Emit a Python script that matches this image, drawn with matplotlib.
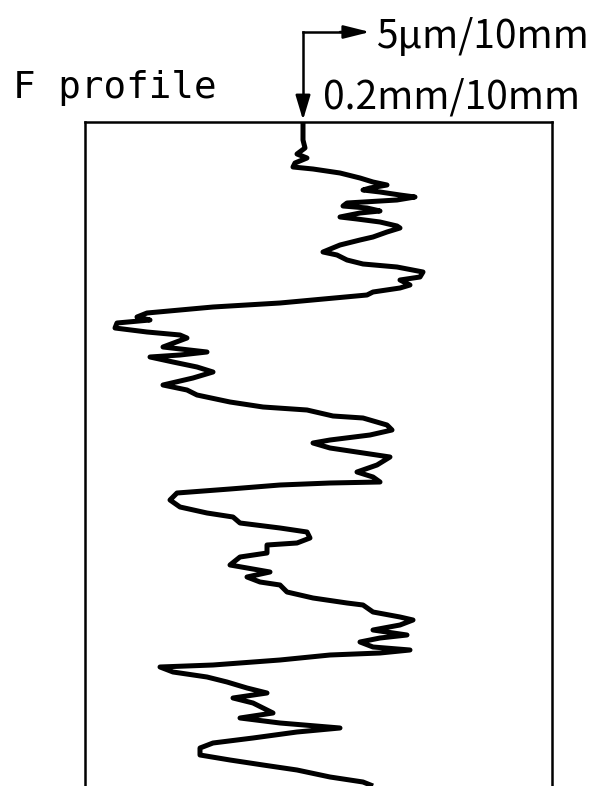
import matplotlib
matplotlib.use("Agg")
import matplotlib.pyplot as plt

# profile trace (deviation across, position down)
deviation = [303, 303, 305, 297, 307, 295, 293, 313, 340, 360, 373, 387, 370, 363, 380, 400,
             415, 397, 347, 343, 367, 380, 360, 340, 357, 380, 397, 400, 387, 373, 360, 340,
             323, 337, 347, 363, 397, 423, 420, 400, 410, 400, 373, 367, 313, 280, 213, 180,
             147, 137, 150, 117, 115, 147, 180, 187, 163, 207, 180, 150, 173, 197, 213, 193,
             163, 187, 197, 230, 263, 307, 333, 363, 387, 392, 370, 330, 313, 330, 363, 390,
             377, 357, 373, 380, 330, 280, 230, 177, 170, 180, 207, 233, 240, 280, 307, 310,
             297, 267, 267, 240, 230, 247, 270, 247, 260, 280, 287, 313, 347, 363, 373, 400,
             413, 400, 373, 407, 380, 360, 373, 410, 380, 330, 280, 213, 160, 173, 207, 227,
             247, 267, 233, 253, 273, 240, 280, 340, 297, 253, 213, 200, 200, 230, 263, 297,
             330, 363, 373]
position = [122, 140, 148, 154, 158, 163, 167, 169, 173, 178, 182, 185, 188, 190, 192, 195,
            197, 200, 203, 206, 208, 211, 213, 217, 219, 222, 226, 228, 232, 237, 240, 245,
            252, 255, 260, 264, 267, 272, 277, 280, 285, 288, 292, 295, 300, 303, 307, 310,
            313, 317, 320, 323, 328, 332, 335, 338, 347, 352, 355, 357, 362, 367, 372, 378,
            385, 390, 395, 402, 407, 410, 416, 418, 425, 430, 435, 440, 443, 448, 453, 457,
            465, 472, 477, 482, 483, 485, 489, 493, 500, 507, 513, 517, 523, 528, 532, 538,
            543, 545, 553, 557, 565, 568, 572, 577, 582, 585, 592, 598, 603, 605, 612, 617,
            620, 625, 630, 635, 638, 642, 647, 650, 653, 655, 660, 665, 667, 672, 677, 682,
            688, 693, 698, 703, 713, 718, 723, 728, 732, 738, 743, 748, 755, 760, 765, 770,
            777, 782, 786]

title = "F profile"
scale_x = "5\u03bcm/10mm"
scale_y = "0.2mm/10mm"

W, H = 589, 786
fig = plt.figure(figsize=(W / 100, H / 100), dpi=100)


def fpos(x, y):
    # pixel position (from top-left) -> figure fraction
    return x / W, 1 - y / H


ax = fig.add_axes([85 / W, 0, (552 - 85) / W, (786 - 122) / H])
ax.plot(deviation, position, color="black", lw=3.6,
        solid_joinstyle="round", solid_capstyle="butt")
ax.set_xlim(85, 552)
ax.set_ylim(786, 122)
ax.set_xticks([])
ax.set_yticks([])
ax.spines["bottom"].set_visible(False)
for s in ["left", "right", "top"]:
    ax.spines[s].set_linewidth(1.8)

# scale arrows
fig.add_artist(plt.Line2D([303 / W, 303 / W], [1 - 32 / H, 1 - 100 / H],
                          color="black", lw=1.8, transform=fig.transFigure))
fig.add_artist(plt.Line2D([303 / W, 342 / W], [1 - 32 / H, 1 - 32 / H],
                          color="black", lw=1.8, transform=fig.transFigure))
ax.annotate("", xy=fpos(303, 120), xytext=fpos(303, 96), xycoords="figure fraction",
            textcoords="figure fraction",
            arrowprops=dict(arrowstyle="-|>,head_length=1.5,head_width=0.45",
                            color="black", lw=1.8, shrinkA=0, shrinkB=0))
ax.annotate("", xy=fpos(370, 32), xytext=fpos(340, 32), xycoords="figure fraction",
            textcoords="figure fraction",
            arrowprops=dict(arrowstyle="-|>,head_length=1.6,head_width=0.4",
                            color="black", lw=1.8, shrinkA=0, shrinkB=0))

fig.text(*fpos(13, 98), title, family="DejaVu Sans Mono", fontsize=27,
         ha="left", va="baseline")
fig.text(*fpos(376, 48), scale_x, family=["Noto Sans CJK JP", "DejaVu Sans"],
         fontsize=28, ha="left", va="baseline")
fig.text(*fpos(323, 108), scale_y, family=["Noto Sans CJK JP", "DejaVu Sans"],
         fontsize=28, ha="left", va="baseline")

fig.savefig("out.png", dpi=100)
